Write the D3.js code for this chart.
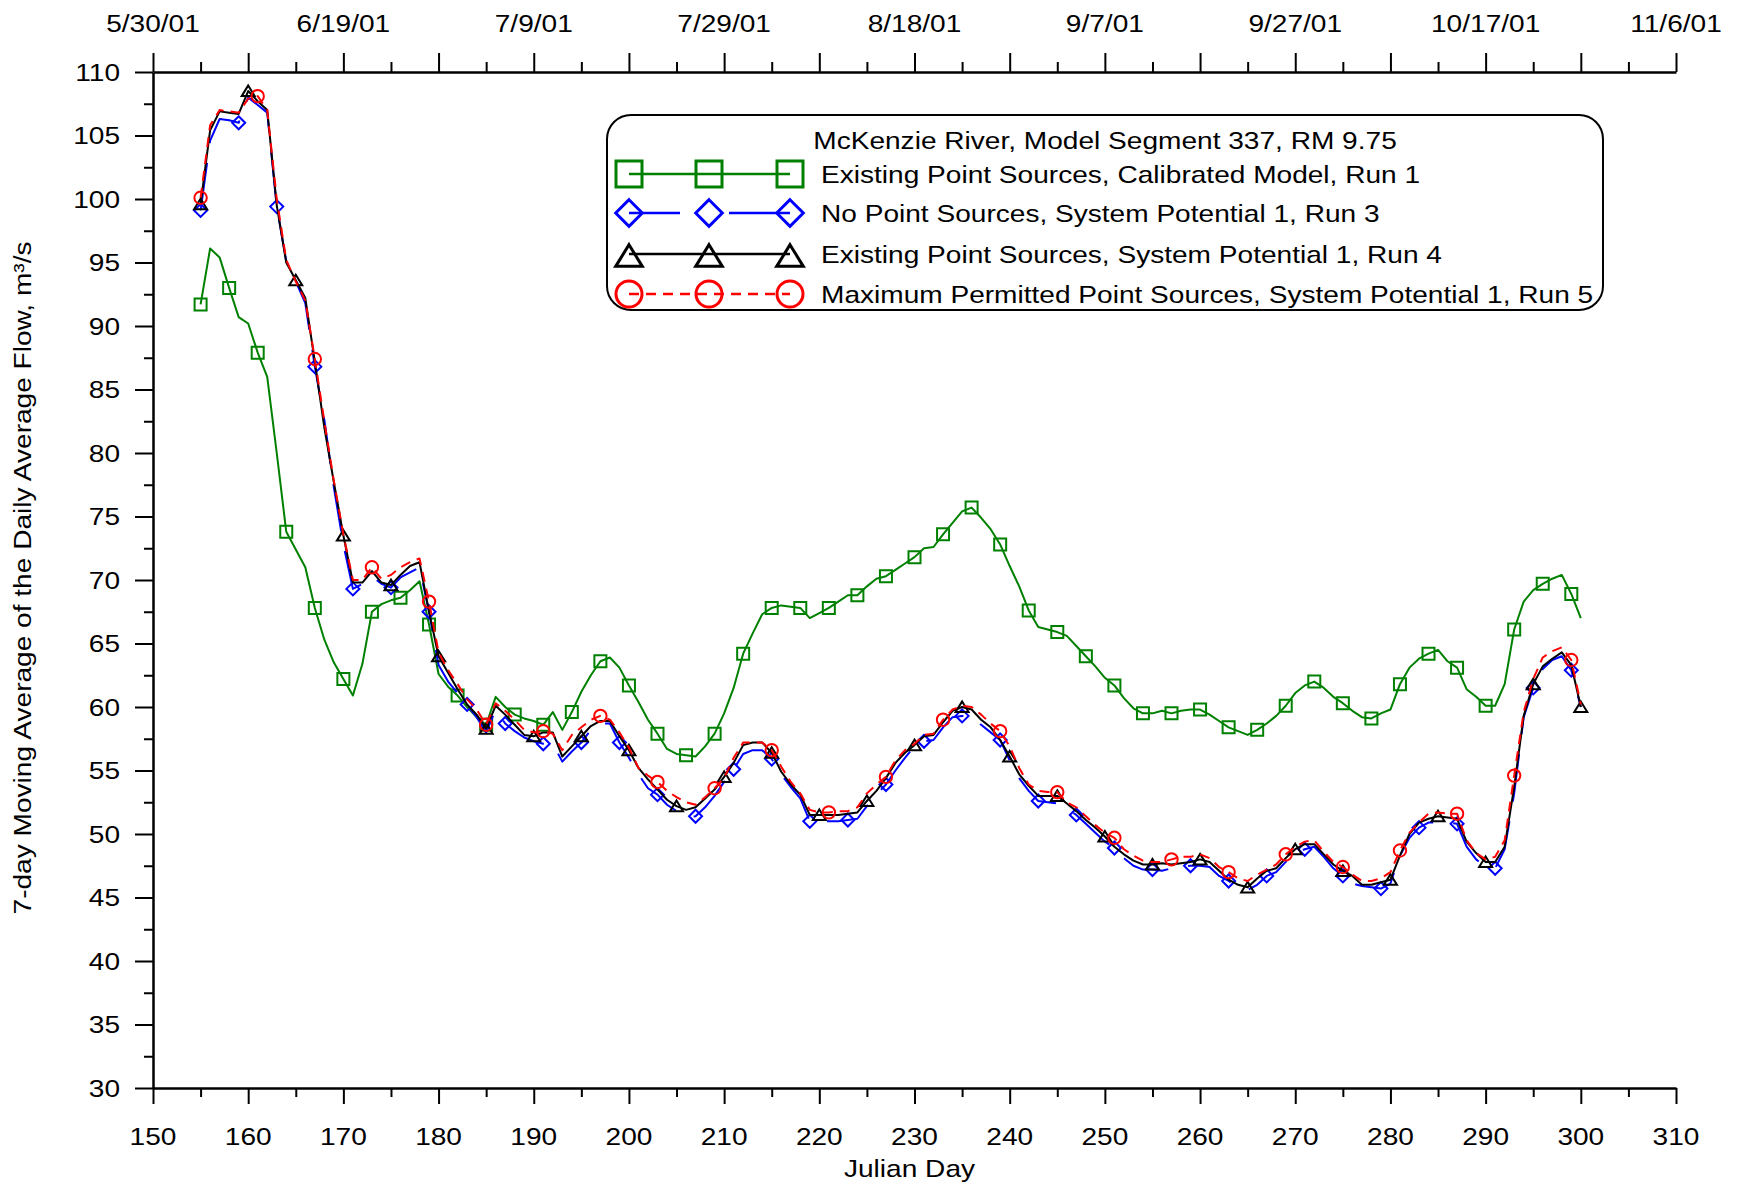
<!DOCTYPE html>
<html><head><meta charset="utf-8">
<script src="https://cdn.jsdelivr.net/npm/d3@7"></script>
<style>
html,body{margin:0;padding:0;background:#fff;}
svg{display:block;}
text{font-family:"Liberation Sans",Arial,Helvetica,sans-serif;fill:#000;}
</style>
</head><body>
<svg id="chart" width="1738" height="1186"></svg>
<script>
// ---------------- data ----------------
const julianDays = d3.range(155, 301);

const run1Calibrated = [
 91.7, 96.1, 95.4, 93.0, 90.7, 90.2, 87.9, 86.0, 80.0, 73.8,
 72.4, 71.0, 67.8, 65.3, 63.5, 62.2, 60.9, 63.4, 67.5, 68.1,
 68.4, 68.6, 69.2, 69.9, 66.5, 62.6, 61.6, 60.9, 60.0, 59.2,
 58.6, 60.8, 60.0, 59.4, 59.1, 58.9, 58.6, 59.6, 58.2, 59.6,
 61.2, 62.5, 63.6, 63.9, 63.1, 61.7, 60.4, 59.0, 57.9, 56.7,
 56.3, 56.2, 56.1, 56.9, 57.9, 59.5, 61.5, 64.2, 65.8, 67.3,
 67.8, 68.0, 67.9, 67.8, 67.0, 67.4, 67.8, 68.3, 68.8, 68.8,
 69.5, 70.1, 70.3, 70.8, 71.3, 71.8, 72.5, 72.6, 73.6, 74.5,
 75.4, 75.7, 74.9, 74.0, 72.8, 71.1, 69.5, 67.6, 66.3, 66.1,
 65.9, 65.6, 64.8, 64.0, 63.2, 62.3, 61.7, 60.7, 59.9, 59.5,
 59.5, 59.7, 59.5, 59.7, 59.8, 59.8, 59.4, 58.9, 58.4, 58.1,
 57.8, 58.2, 58.7, 59.3, 60.1, 61.1, 61.7, 62.0, 61.5, 60.8,
 60.3, 59.7, 59.2, 59.1, 59.5, 59.8, 61.8, 63.1, 63.8, 64.2,
 64.5, 63.6, 63.1, 61.4, 60.8, 60.1, 60.1, 61.8, 66.1, 68.3,
 69.2, 69.7, 70.1, 70.4, 68.9, 67.0
];

const run3NoPoint = [
 99.1, 104.6, 106.3, 106.2, 106.0, 108.0, 107.4, 106.8, 99.4, 95.1,
 93.5, 91.8, 86.8, 82.6, 77.3, 72.8, 69.3, 69.7, 70.3, 69.7,
 69.4, 70.2, 70.6, 71.0, 67.5, 63.3, 62.0, 61.1, 60.2, 59.2,
 58.0, 59.8, 58.7, 58.1, 57.6, 57.3, 57.1, 57.1, 55.7, 56.5,
 57.2, 58.2, 58.7, 58.7, 57.2, 56.0, 54.7, 53.6, 53.1, 52.3,
 51.8, 51.3, 51.4, 52.1, 53.0, 54.1, 55.1, 56.3, 56.6, 56.6,
 55.9, 54.7, 53.7, 52.8, 51.0, 51.0, 51.0, 51.0, 51.1, 51.2,
 52.2, 53.1, 53.9, 55.0, 56.0, 56.9, 57.3, 57.4, 58.4, 59.2,
 59.3, 59.3, 58.6, 58.0, 57.4, 55.8, 54.4, 53.4, 52.6, 52.5,
 52.4, 52.0, 51.5, 50.8, 50.1, 49.4, 48.9, 48.1, 47.5, 47.2,
 47.2, 47.1, 47.3, 47.4, 47.5, 47.5, 47.4, 46.7, 46.3, 45.8,
 45.6, 46.0, 46.7, 47.0, 47.8, 48.5, 48.8, 49.0, 48.2, 47.3,
 46.7, 46.1, 45.9, 45.8, 45.7, 46.1, 48.3, 49.7, 50.5, 50.9,
 50.9, 50.9, 50.8, 49.0, 48.0, 47.4, 47.3, 48.8, 53.2, 59.2,
 61.5, 63.0, 63.7, 64.0, 62.9, 60.0
];

const run4Existing = [
 99.6, 105.4, 106.9, 106.8, 106.7, 108.5, 107.7, 107.0, 99.5, 95.0,
 93.6, 92.2, 87.2, 82.0, 77.7, 73.5, 69.8, 69.8, 70.7, 69.8,
 69.6, 70.4, 71.1, 71.4, 67.5, 64.0, 62.7, 61.4, 60.2, 59.4,
 58.3, 60.1, 59.4, 58.6, 57.8, 57.7, 58.0, 58.0, 56.1, 56.9,
 57.7, 58.5, 58.9, 58.9, 57.7, 56.6, 55.2, 54.3, 53.5, 52.7,
 52.2, 51.9, 52.1, 52.8, 53.5, 54.5, 55.6, 57.0, 57.2, 57.2,
 56.4, 54.9, 53.9, 53.1, 51.5, 51.5, 51.5, 51.5, 51.6, 51.7,
 52.6, 53.4, 54.4, 55.6, 56.4, 57.0, 57.7, 57.8, 58.8, 59.7,
 60.0, 59.8, 59.0, 58.4, 57.4, 56.1, 54.7, 53.8, 53.0, 53.0,
 53.0, 52.4, 51.8, 51.1, 50.5, 49.8, 49.0, 48.4, 47.9, 47.6,
 47.6, 47.7, 47.6, 47.7, 47.8, 48.0, 47.8, 47.1, 46.4, 46.0,
 45.8, 46.5, 47.1, 47.3, 48.1, 48.8, 49.2, 49.2, 48.4, 47.6,
 47.1, 46.7, 46.0, 46.0, 46.2, 46.4, 48.3, 50.0, 50.9, 51.2,
 51.4, 51.3, 51.2, 49.4, 48.5, 47.8, 47.8, 49.0, 53.7, 59.3,
 61.8, 63.2, 63.8, 64.3, 63.3, 60.0
];

const run5MaxPermitted = [
 100.1, 105.8, 107.0, 106.9, 106.8, 107.9, 108.1, 107.0, 100.0, 95.2,
 93.5, 92.0, 87.4, 82.5, 77.8, 73.6, 70.0, 70.0, 71.0, 70.1,
 70.4, 71.0, 71.4, 71.7, 68.3, 64.3, 62.9, 61.8, 60.6, 59.8,
 58.6, 60.3, 59.7, 59.0, 58.2, 58.0, 58.1, 57.9, 56.6, 57.8,
 58.4, 59.0, 59.3, 59.0, 58.0, 56.8, 55.2, 54.6, 54.1, 53.4,
 52.9, 52.5, 52.3, 52.9, 53.6, 54.4, 56.0, 57.2, 57.2, 57.2,
 56.6, 55.3, 54.1, 53.2, 51.9, 51.7, 51.7, 51.8, 51.8, 52.1,
 53.2, 53.9, 54.5, 55.8, 56.6, 57.1, 57.8, 57.9, 59.0, 59.8,
 60.1, 60.0, 59.4, 58.7, 58.1, 56.9, 55.2, 53.9, 53.4, 53.3,
 53.3, 52.5, 52.1, 51.4, 50.7, 50.1, 49.7, 48.8, 48.3, 47.9,
 47.8, 47.8, 48.0, 48.2, 48.2, 48.4, 48.1, 47.4, 47.0, 46.5,
 46.3, 46.8, 47.2, 47.6, 48.4, 49.0, 49.4, 49.5, 48.6, 47.8,
 47.4, 46.8, 46.3, 46.3, 46.5, 47.0, 48.7, 50.1, 50.9, 51.6,
 51.7, 51.6, 51.6, 49.5, 48.5, 48.0, 48.2, 49.5, 54.6, 59.6,
 62.2, 63.9, 64.4, 64.7, 63.7, 60.2
];

const seriesNames = [
  "Existing Point Sources, Calibrated Model, Run 1",
  "No Point Sources, System Potential 1, Run 3",
  "Existing Point Sources, System Potential 1, Run 4",
  "Maximum Permitted Point Sources, System Potential 1, Run 5"
];
const legendTitle = "McKenzie River, Model Segment 337, RM 9.75";

const yTickValues = [30,35,40,45,50,55,60,65,70,75,80,85,90,95,100,105,110];
const xTickValues = [150,160,170,180,190,200,210,220,230,240,250,260,270,280,290,300,310];
const dateTickDays = [150,170,190,210,230,250,270,290,310];
const dateTickLabels = ["5/30/01","6/19/01","7/9/01","7/29/01","8/18/01","9/7/01","9/27/01","10/17/01","11/6/01"];

const xTitle = "Julian Day";
const yTitle = "7-day Moving Average of the Daily Average Flow, m\u00B3/s";

// ---------------- layout ----------------
const svg = d3.select("#chart");
const P = {left:153, right:1676, top:72, bottom:1088};
const x = d3.scaleLinear().domain([150,310]).range([P.left, P.right]);
const y = d3.scaleLinear().domain([30,110]).range([P.bottom, P.top]);
const SX = 1.17, FS = 24;

function label(g, px, py, str, anchor, rot){
  return g.append("text")
    .attr("transform", `translate(${px},${py})` + (rot ? ` rotate(${rot})` : "") + ` scale(${SX},1)`)
    .attr("text-anchor", anchor)
    .attr("font-size", FS)
    .text(str);
}

// ---------------- axes ----------------
const axG = svg.append("g");
function styleAxis(g, sw){
  g.selectAll("path.domain").attr("stroke","#000").attr("stroke-width",2.5);
  g.selectAll(".tick line").attr("stroke","#000").attr("stroke-width",sw);
  g.selectAll(".tick text").remove();
}
const yMinor = yTickValues.slice(0,-1).map(v => v + 2.5);
const xMinor = xTickValues.slice(0,-1).map(v => v + 5);

// left
const gl = axG.append("g").attr("transform",`translate(${P.left},0)`)
  .call(d3.axisLeft(y).tickValues(yTickValues).tickSize(18).tickSizeOuter(0).tickFormat(""));
styleAxis(gl, 2);
const glm = axG.append("g").attr("transform",`translate(${P.left},0)`)
  .call(d3.axisLeft(y).tickValues(yMinor).tickSize(9).tickSizeOuter(0).tickFormat(""));
glm.select("path.domain").remove(); styleAxis(glm, 2);

// bottom
const gb = axG.append("g").attr("transform",`translate(0,${P.bottom})`)
  .call(d3.axisBottom(x).tickValues(xTickValues).tickSize(16).tickSizeOuter(0).tickFormat(""));
styleAxis(gb, 2);
const gbm = axG.append("g").attr("transform",`translate(0,${P.bottom})`)
  .call(d3.axisBottom(x).tickValues(xMinor).tickSize(9).tickSizeOuter(0).tickFormat(""));
gbm.select("path.domain").remove(); styleAxis(gbm, 2);

// top
const gt = axG.append("g").attr("transform",`translate(0,${P.top})`)
  .call(d3.axisTop(x).tickValues(xTickValues).tickSize(19).tickSizeOuter(0).tickFormat(""));
styleAxis(gt, 2);
const gtm = axG.append("g").attr("transform",`translate(0,${P.top})`)
  .call(d3.axisTop(x).tickValues(xMinor).tickSize(10).tickSizeOuter(0).tickFormat(""));
gtm.select("path.domain").remove(); styleAxis(gtm, 2);

// labels
const lab = svg.append("g");
yTickValues.forEach(v => label(lab, 120, y(v) + 8.5, String(v), "end"));
xTickValues.forEach(v => label(lab, x(v), 1145, String(v), "middle"));
dateTickDays.forEach((d,i) => label(lab, x(d), 32, dateTickLabels[i], "middle"));
label(lab, (P.left+P.right)/2 - 5, 1177, xTitle, "middle");
label(lab, 31, 578, yTitle, "middle", -90);

// ---------------- series ----------------
const series = [
  {vals: run1Calibrated,   color:"#008000", dash:null,    sym:"square",   step:3},
  {vals: run3NoPoint,      color:"#0000FF", dash:"48,20", sym:"diamond",  step:4},
  {vals: run4Existing,     color:"#000000", dash:null,    sym:"triangle", step:5},
  {vals: run5MaxPermitted, color:"#FF0000", dash:"10,7",  sym:"circle",   step:6}
];

function symbolPath(type, s){
  if(type==="square") return `M${-s},${-s}H${s}V${s}H${-s}Z`;
  if(type==="diamond") return `M0,${-s}L${s},0L0,${s}L${-s},0Z`;
  if(type==="triangle") return `M0,${-s*0.85}L${s},${s*0.78}L${-s},${s*0.78}Z`;
  // circle
  return `M${s},0A${s},${s} 0 1,1 ${-s},0A${s},${s} 0 1,1 ${s},0Z`;
}
const symSize = {square:6, diamond:6.5, triangle:6.5, circle:6.2};

const line = d3.line().x(d => x(d.day)).y(d => y(d.v));
const dataG = svg.append("g");
series.forEach(s => {
  const pts = julianDays.map((d,i) => ({day:d, v:s.vals[i]}));
  const p = dataG.append("path").datum(pts).attr("d", line)
    .attr("fill","none").attr("stroke", s.color).attr("stroke-width", 2)
    .attr("stroke-linejoin","round");
  if(s.dash) p.attr("stroke-dasharray", s.dash);
  const marks = pts.filter(d => (d.day - 155) % s.step === 0);
  dataG.selectAll(null).data(marks).enter().append("path")
    .attr("transform", d => `translate(${x(d.day)},${y(d.v)})`)
    .attr("d", symbolPath(s.sym, symSize[s.sym]))
    .attr("fill","none").attr("stroke", s.color).attr("stroke-width", 2);
});

// ---------------- legend ----------------
const lg = svg.append("g");
lg.append("rect").attr("x",607).attr("y",115).attr("width",996).attr("height",195)
  .attr("rx",24).attr("ry",24).attr("fill","#fff").attr("stroke","#000").attr("stroke-width",2);
label(lg, 1105, 149, legendTitle, "middle");
const rowY = [174, 213, 254, 294];
const legSym = {square:13, diamond:13.3, triangle:13.3, circle:13};
const legDash = [null, "51,49,90", null, "10,7"];
const symX = [629, 709, 790];
series.forEach((s,i) => {
  const ly = rowY[i];
  const ln = lg.append("line").attr("x1",629).attr("x2",790).attr("y1",ly).attr("y2",ly)
    .attr("stroke", s.color).attr("stroke-width",2.5);
  if(legDash[i]) ln.attr("stroke-dasharray", legDash[i]);
  const off = s.sym==="triangle" ? 2 : 0;
  symX.forEach(sx => {
    lg.append("path").attr("transform",`translate(${sx},${ly+off})`)
      .attr("d", symbolPath(s.sym, legSym[s.sym]))
      .attr("fill","none").attr("stroke", s.color).attr("stroke-width",3);
  });
  label(lg, 821, ly + 9, seriesNames[i], "start");
});
</script>
</body></html>
